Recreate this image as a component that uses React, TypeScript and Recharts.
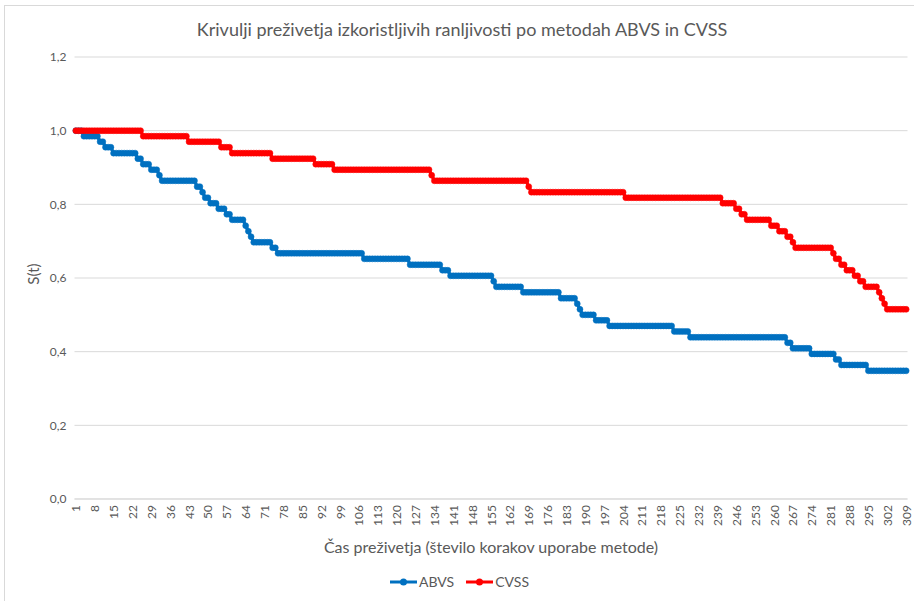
import { LineChart, Line, XAxis, YAxis, CartesianGrid, Legend, Label } from 'recharts'

// Kaplan-Meier steps: category where a new level starts, and the level
const abvsStart = [1, 4, 10, 12, 15, 24, 26, 29, 32, 33, 46, 48, 49, 51, 54, 57, 59, 64, 65, 66, 67, 74, 76, 108, 125, 137, 140, 156, 157, 167, 181, 187, 188, 189, 194, 199, 223, 229, 265, 267, 274, 283, 285, 295]
const abvsValue = [1.0, 0.985, 0.97, 0.955, 0.939, 0.924, 0.909, 0.894, 0.879, 0.864, 0.848, 0.833, 0.818, 0.803, 0.788, 0.773, 0.758, 0.742, 0.727, 0.712, 0.697, 0.682, 0.667, 0.652, 0.636, 0.621, 0.606, 0.591, 0.576, 0.561, 0.545, 0.53, 0.515, 0.5, 0.485, 0.47, 0.455, 0.439, 0.424, 0.409, 0.394, 0.379, 0.364, 0.348]

const cvssStart = [1, 26, 43, 55, 59, 74, 90, 97, 133, 134, 169, 170, 205, 241, 246, 248, 250, 259, 262, 265, 267, 268, 282, 283, 285, 287, 290, 292, 294, 299, 300, 301, 302]
const cvssValue = [1.0, 0.985, 0.97, 0.955, 0.939, 0.924, 0.909, 0.894, 0.879, 0.864, 0.848, 0.833, 0.818, 0.803, 0.788, 0.773, 0.758, 0.742, 0.727, 0.712, 0.697, 0.682, 0.667, 0.652, 0.636, 0.621, 0.606, 0.591, 0.576, 0.561, 0.545, 0.53, 0.515]

const lastStep = 309
const yTicks = [0, 0.2, 0.4, 0.6, 0.8, 1.0, 1.2]

const BLUE = '#0070C0'
const RED = '#FF0000'
const TEXT = '#595959'
const FONT = 'Lato, "Liberation Sans", sans-serif'

// value of a step series at category t
const levelAt = (starts: number[], values: number[], t: number) => {
  let v = values[0]
  starts.forEach((s, i) => {
    if (s <= t) v = values[i]
  })
  return v
}

const rows = Array.from({ length: lastStep }, (_, i) => i + 1).map(t => ({
  t,
  abvs: levelAt(abvsStart, abvsValue, t),
  cvss: levelAt(cvssStart, cvssValue, t)
}))

const XTick = ({ x, y, payload }: any) => (
  <text
    x={x}
    y={y - 2}
    transform={`rotate(-90 ${x} ${y - 2})`}
    textAnchor="end"
    dominantBaseline="central"
    fontSize={12}
    fill={TEXT}
    fontFamily={FONT}
  >
    {payload.value}
  </text>
)

const LegendItem = ({ color, name }: { color: string; name: string }) => (
  <div style={{ display: 'flex', alignItems: 'center', marginRight: 12 }}>
    <svg width={27} height={10}>
      <line x1={0} y1={5} x2={27} y2={5} stroke={color} strokeWidth={3} />
      <circle cx={13.5} cy={5} r={3.5} fill={color} />
    </svg>
    <span style={{ marginLeft: 2 }}>{name}</span>
  </div>
)

const LegendContent = () => (
  <div style={{ display: 'flex', paddingLeft: 390, fontSize: 14, color: TEXT, fontFamily: FONT }}>
    <LegendItem color={BLUE} name="ABVS" />
    <LegendItem color={RED} name="CVSS" />
  </div>
)

export default function App() {
  return (
    <div
      style={{
        position: 'absolute',
        left: 0,
        top: 0,
        width: 914,
        height: 601,
        background: '#fff',
        overflow: 'hidden',
        fontFamily: FONT
      }}
    >
      <div
        style={{
          position: 'absolute',
          left: 4,
          top: 5,
          width: 930,
          height: 620,
          border: '1px solid #d9d9d9'
        }}
      />
      <div
        style={{
          position: 'absolute',
          left: 4,
          top: 18,
          width: 916,
          textAlign: 'center',
          fontSize: 18,
          color: TEXT
        }}
      >
        Krivulji preživetja izkoristljivih ranljivosti po metodah ABVS in CVSS
      </div>
      <LineChart
        width={914}
        height={601}
        data={rows}
        margin={{ top: 57, right: 6.5, bottom: 62, left: 4 }}
        style={{ position: 'absolute', left: 0, top: 0 }}
      >
        <CartesianGrid vertical={false} stroke="#d9d9d9" />
        <XAxis
          dataKey="t"
          interval={6}
          tick={<XTick />}
          tickLine={false}
          axisLine={{ stroke: '#d9d9d9' }}
          height={40}
          padding={{ left: 1.35, right: 1.35 }}
        >
          <Label
            content={() => (
              <text x={491} y={553} textAnchor="middle" fontSize={16} fill={TEXT} fontFamily={FONT}>
                Čas preživetja (število korakov uporabe metode)
              </text>
            )}
          />
        </XAxis>
        <YAxis
          type="number"
          domain={[0, 1.2]}
          ticks={yTicks}
          tickFormatter={(v: number) => v.toFixed(1).replace('.', ',')}
          axisLine={false}
          tickLine={false}
          width={70.5}
          tick={{ fontSize: 12, fill: TEXT, fontFamily: FONT }}
        >
          <Label
            content={() => (
              <text
                x={33}
                y={274}
                transform="rotate(-90 33 274)"
                textAnchor="middle"
                dominantBaseline="central"
                fontSize={15}
                fill={TEXT}
                fontFamily={FONT}
              >
                S(t)
              </text>
            )}
          />
        </YAxis>
        <Legend
          verticalAlign="middle"
          align="center"
          content={<LegendContent />}
          wrapperStyle={{ left: 0, top: 573, width: 914 }}
        />
        <Line
          type="linear"
          dataKey="abvs"
          name="ABVS"
          stroke={BLUE}
          strokeWidth={3.2}
          dot={{ r: 3, fill: BLUE, stroke: BLUE, strokeWidth: 0.5 }}
          activeDot={false}
          isAnimationActive={false}
        />
        <Line
          type="linear"
          dataKey="cvss"
          name="CVSS"
          stroke={RED}
          strokeWidth={3.2}
          dot={{ r: 3, fill: RED, stroke: RED, strokeWidth: 0.5 }}
          activeDot={false}
          isAnimationActive={false}
        />
      </LineChart>
    </div>
  )
}
